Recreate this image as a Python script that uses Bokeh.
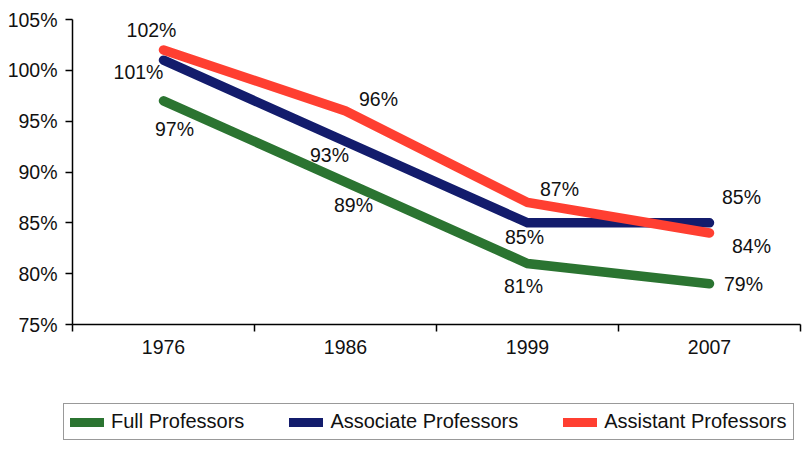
from bokeh.plotting import figure
from bokeh.layouts import column, row
from bokeh.models import Range1d, FixedTicker, PrintfTickFormatter, Legend, LegendItem, ColumnDataSource
from bokeh.core.properties import value
from bokeh.embed import file_html
from bokeh.resources import INLINE

years = ["1976", "1986", "1999", "2007"]
full = [97, 89, 81, 79]
associate = [101, 93, 85, 85]
assistant = [102, 96, 87, 84]
series_names = ["Full Professors", "Associate Professors", "Assistant Professors"]
y_ticks = [75, 80, 85, 90, 95, 100, 105]

colors = ["#2b7431", "#131c6c", "#ff3f31"]
# label offsets in screen pixels (dx right, dy down) -- layout only
offsets = [
    [(11, 28), (8, 23), (-4, 22), (34, 0)],
    [(-25, 12), (-16, 13), (-3, 14), (32, -26)],
    [(-12, -20), (33, -12), (32, -14), (42, 13)],
]

FONT = "Liberation Sans"
FS = "19.5px"

p = figure(width=802, height=370, output_backend="svg", toolbar_location=None,
           x_range=Range1d(0, 4), y_range=Range1d(75, 105),
           min_border_left=72, min_border_right=2, min_border_top=19, min_border_bottom=46)
p.outline_line_color = None
p.xgrid.visible = False
p.ygrid.visible = False

xs = [i + 0.5 for i in range(len(years))]

for vals, col, offs in zip([full, associate, assistant], colors, offsets):
    p.line(xs, vals, line_color=col, line_width=9.5, line_cap="round", line_join="miter")
    src = ColumnDataSource(dict(x=xs, y=vals, t=[f"{v}%" for v in vals],
                                dx=[o[0] for o in offs], dy=[o[1] for o in offs]))
    p.text(x="x", y="y", text="t", source=src, x_offset="dx", y_offset="dy",
           text_align="center", text_baseline="middle", text_font=value(FONT),
           text_font_size=FS, text_color="#111111")

# x axis
xa = p.xaxis[0]
xa.ticker = FixedTicker(ticks=xs, minor_ticks=[0, 1, 2, 3, 4])
xa.major_label_overrides = {x: y for x, y in zip(xs, years)}
xa.major_tick_out = 0
xa.major_tick_in = 0
xa.minor_tick_out = 7
xa.minor_tick_in = 0
xa.minor_tick_line_color = "black"
xa.major_label_standoff = 8
xa.axis_line_color = "black"
xa.axis_line_width = 1.5
xa.minor_tick_line_width = 1.5
xa.major_label_text_font = FONT
xa.major_label_text_font_size = FS
xa.major_label_text_color = "#111111"

ya = p.yaxis[0]
ya.ticker = FixedTicker(ticks=y_ticks, minor_ticks=[])
ya.formatter = PrintfTickFormatter(format="%d%%")
ya.major_tick_out = 7
ya.major_tick_in = 0
ya.major_tick_line_width = 1.5
ya.axis_line_width = 1.5
ya.major_label_standoff = 8
ya.major_label_text_font = FONT
ya.major_label_text_font_size = FS
ya.major_label_text_color = "#111111"

# legend strip below the chart
p2 = figure(width=802, height=81, output_backend="svg", toolbar_location=None,
            x_range=Range1d(0, 1), y_range=Range1d(0, 1),
            min_border_left=0, min_border_right=0, min_border_top=0, min_border_bottom=0)
p2.axis.visible = False
p2.grid.visible = False
p2.outline_line_color = None
leg_renderers = [p2.line([-5, -4], [-5, -4], line_color=c, line_width=9, line_cap="round")
                 for c in colors]

legend = Legend(items=[LegendItem(label=n, renderers=[r]) for n, r in zip(series_names, leg_renderers)],
                location=(63, 11), orientation="horizontal", margin=0,
                label_text_font=FONT, label_text_font_size="20px", label_text_color="#111111",
                glyph_width=34, glyph_height=16, label_standoff=7, spacing=45, padding=6,
                border_line_color="#333333", border_line_width=1, background_fill_color="white")
p2.add_layout(legend, "center")

open("out.html", "w").write(file_html(column(p, row(p2), spacing=0), INLINE))
